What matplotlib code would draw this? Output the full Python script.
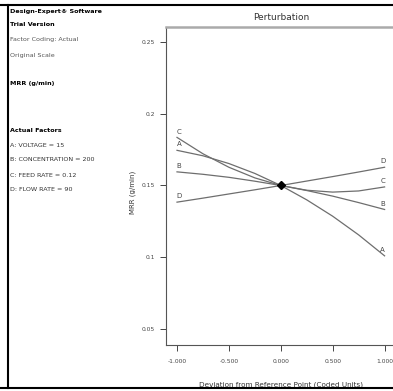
import matplotlib
matplotlib.use("Agg")
import matplotlib.pyplot as plt
from matplotlib.lines import Line2D

plt.rcParams['font.family'] = ['Liberation Sans Narrow', 'DejaVu Sans']

# deviation from reference point (coded units)
dev = [-1.0, -0.75, -0.5, -0.25, 0.0, 0.25, 0.5, 0.75, 1.0]
# MRR (g/min)
mrr_a = [0.1745, 0.1707, 0.1653, 0.1584, 0.150, 0.1400, 0.1286, 0.1156, 0.101]
mrr_b = [0.1595, 0.1578, 0.1557, 0.1530, 0.150, 0.1465, 0.1426, 0.1381, 0.1333]
mrr_c = [0.1835, 0.1721, 0.1627, 0.1553, 0.150, 0.1467, 0.1454, 0.1462, 0.149]
mrr_d = [0.1384, 0.1412, 0.1441, 0.1470, 0.150, 0.1531, 0.1562, 0.1594, 0.1627]
names = ["A", "B", "C", "D"]

ref_point = (0.0, 0.150)
yticks = [0.05, 0.1, 0.15, 0.2, 0.25]
ytick_labels = ["0.05", "0.1", "0.15", "0.2", "0.25"]
xticks = [-1.0, -0.5, 0.0, 0.5, 1.0]
xtick_labels = ["-1.000", "-0.500", "0.000", "0.500", "1.000"]

side_lines = [
    ("Design-Expert\u00ae Software", "bold", "black", 12),
    ("Trial Version", "bold", "black", 25),
    ("Factor Coding: Actual", "normal", "#555555", 40),
    ("Original Scale", "normal", "#555555", 56),
    ("MRR (g/min)", "bold", "black", 84),
    ("Actual Factors", "bold", "black", 130),
    ("A: VOLTAGE = 15", "normal", "#333333", 145),
    ("B: CONCENTRATION = 200", "normal", "#333333", 160),
    ("C: FEED RATE = 0.12", "normal", "#333333", 175),
    ("D: FLOW RATE = 90", "normal", "#333333", 190),
]

W, H = 393, 391
fig = plt.figure(figsize=(W / 100, H / 100), dpi=100)
ax = fig.add_axes([166 / W, 1 - 345 / H, 230 / W, 318 / H])

line_col = "#6e6e6e"
for name, vals in zip(names, [mrr_a, mrr_b, mrr_c, mrr_d]):
    ax.plot(dev, vals, color=line_col, lw=0.9)
    ax.text(dev[0] + 0.02, vals[0] + 0.002, name, fontsize=5, color="#444444",
            ha="center", va="bottom")
    ax.text(dev[-1] - 0.02, vals[-1] + 0.002, name, fontsize=5, color="#444444",
            ha="center", va="bottom")

ax.plot(*ref_point, marker="D", color="black", markersize=4)

ax.set_xlim(-1.106, 1.11)
ax.set_ylim(0.0389, 0.2604)
ax.set_xticks(xticks)
ax.set_xticklabels(xtick_labels)
ax.set_yticks(yticks)
ax.set_yticklabels(ytick_labels)
ax.tick_params(axis="both", labelsize=4.3, colors="#444444", length=4, width=0.7, pad=4)
ax.tick_params(axis="x", pad=6)

for s in ["left", "bottom"]:
    ax.spines[s].set_color("#555555")
    ax.spines[s].set_linewidth(0.8)
ax.spines["top"].set_color("#aaaaaa")
ax.spines["top"].set_linewidth(1.8)
ax.spines["right"].set_visible(False)

ax.set_title("Perturbation", fontsize=6.5, color="#333333", pad=5)
ax.set_xlabel("Deviation from Reference Point (Coded Units)", fontsize=5.2,
              color="#333333", labelpad=13)
fig.text(133 / W, 1 - 192 / H, "MRR (g/min)", rotation=90, fontsize=5,
         color="#333333", ha="center", va="center")

for txt, weight, col, ypix in side_lines:
    fig.text(10 / W, 1 - ypix / H, txt, fontsize=4.6, fontweight=weight,
             color=col, ha="left", va="center")

# outer frame lines
fig.add_artist(Line2D([0, 1], [1 - 5 / H, 1 - 5 / H], color="black", lw=1.5,
                      transform=fig.transFigure))
fig.add_artist(Line2D([0, 1], [1 - 388 / H, 1 - 388 / H], color="black", lw=1.5,
                      transform=fig.transFigure))
fig.add_artist(Line2D([8 / W, 8 / W], [1 - 5 / H, 1 - 388 / H], color="black",
                      lw=1.5, transform=fig.transFigure))

fig.savefig("out.png", dpi=100)
